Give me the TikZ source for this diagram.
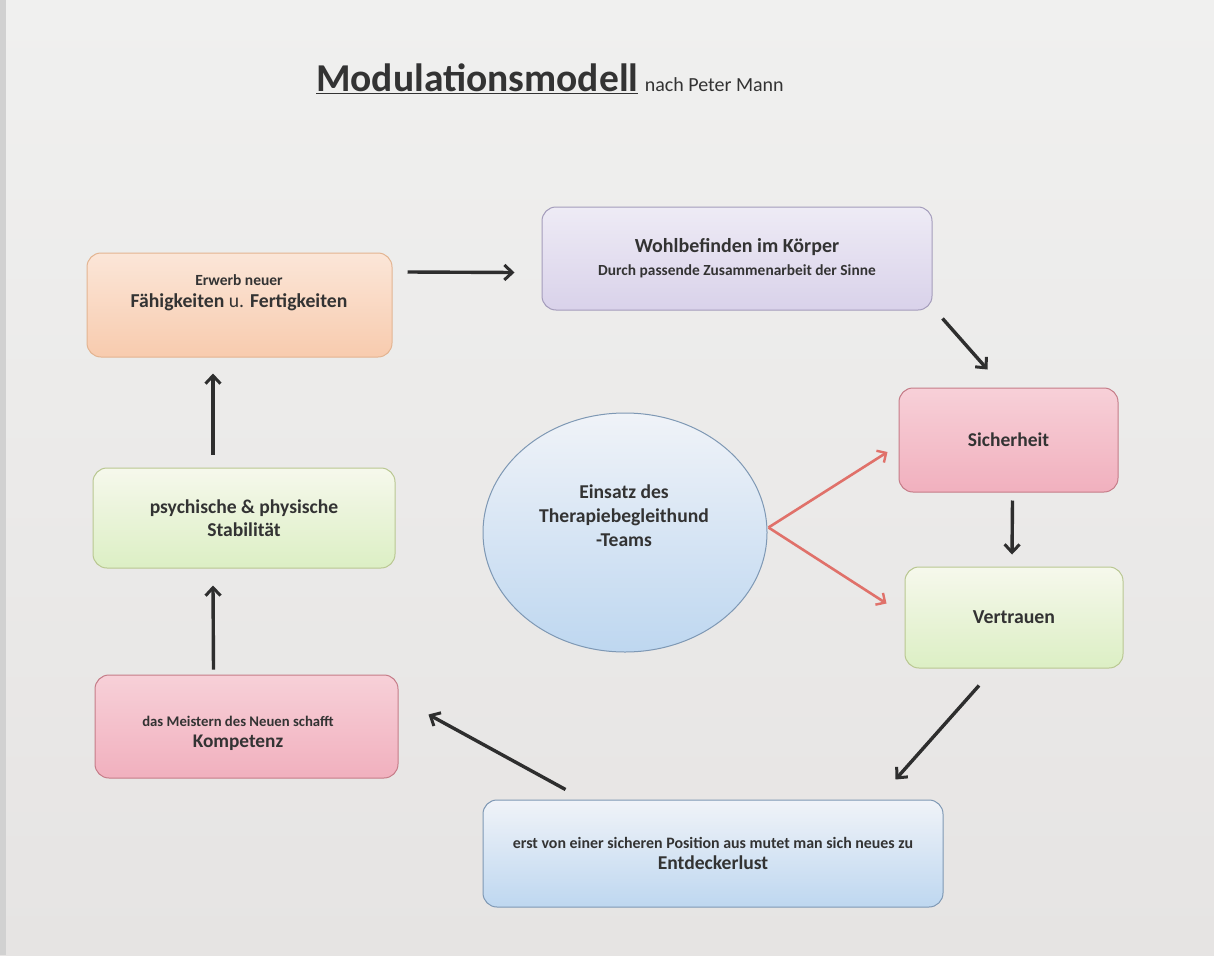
\documentclass[tikz,border=0pt]{standalone}
\usepackage{fontspec}
\setmainfont{Carlito}
\usetikzlibrary{arrows.meta,calc,shapes.geometric,shadings}
\definecolor{txt}{HTML}{333333}
\definecolor{bgtop}{HTML}{F0F0EF}
\definecolor{bgbot}{HTML}{E6E4E3}
\definecolor{orT}{HTML}{FBE6D8}
\definecolor{orB}{HTML}{F8CBAE}
\definecolor{orD}{HTML}{E3B491}
\definecolor{puT}{HTML}{EEEBF5}
\definecolor{puB}{HTML}{D9D2EA}
\definecolor{puD}{HTML}{A49CBB}
\definecolor{piT}{HTML}{F7D0D8}
\definecolor{piB}{HTML}{F1B0BE}
\definecolor{piD}{HTML}{C57C88}
\definecolor{grT}{HTML}{F6F8EC}
\definecolor{grB}{HTML}{DCEFC4}
\definecolor{grD}{HTML}{B9C791}
\definecolor{blT}{HTML}{F0F3F8}
\definecolor{blB}{HTML}{BED7F0}
\definecolor{blD}{HTML}{7E98B4}
\definecolor{redarr}{HTML}{E0716A}
\definecolor{blk}{HTML}{2E2E2E}
\tikzset{
  box/.style={draw, line width=1pt, rounded corners=14pt, inner sep=0pt, text=txt, align=center},
  orangebox/.style={box, draw=orD, top color=orT, bottom color=orB},
  purplebox/.style={box, draw=puD, top color=puT, bottom color=puB},
  pinkbox/.style={box, draw=piD, top color=piT, bottom color=piB},
  greenbox/.style={box, draw=grD, top color=grT, bottom color=grB},
  bluebox/.style={box, draw=blD, top color=blT, bottom color=blB},
  lbl/.style={text=txt, align=center, inner sep=0pt},
  arr/.style={draw=blk, line width=3.4pt, -{Straight Barb[length=8pt,width=15pt,line width=3pt]}},
  redarrow/.style={draw=redarr, line width=2.6pt, -{Straight Barb[length=7pt,width=14pt,line width=2.4pt]}},
  fnt/.style 2 args={font=\fontsize{#1}{#2}\selectfont\bfseries}
}
\newcommand{\sm}{\fontsize{15.5}{15.5}\selectfont}
\begin{document}
\begin{tikzpicture}[x=1pt,y=-1pt]
\useasboundingbox (0,0) rectangle (1214,955);
\shade[top color=bgtop, bottom color=bgbot] (0,0) rectangle (1214,955);
\fill[black!18] (0,0) rectangle (6,955);

% title
\node[anchor=base west, text=txt, inner sep=0pt, font=\fontsize{39.5}{39.5}\selectfont\bfseries] (title) at (316,92) {\underline{Modulationsmodell}};
\node[anchor=base west, text=txt, inner sep=0pt, font=\fontsize{20}{20}\selectfont] (sub) at ([xshift=6pt]title.base east) {nach Peter Mann};

% boxes
\node[orangebox, minimum width=305pt, minimum height=104pt] (erwerb) at (239.5,305) {};
\node[lbl, fnt={19.7}{22}] at (239,293) {{\sm Erwerb neuer}\\Fähigkeiten {\mdseries u.} Fertigkeiten};

\node[purplebox, minimum width=390pt, minimum height=103pt, fnt={20}{23}] (wohl) at (737,258.5)
  {Wohlbefinden im Körper\\{\fontsize{15.4}{15.4}\selectfont Durch passende Zusammenarbeit der Sinne}};

\node[pinkbox, minimum width=219pt, minimum height=104pt, fnt={19.5}{22}] (sicher) at (1008.5,440) {Sicherheit};

\node[greenbox, minimum width=218pt, minimum height=101pt, fnt={19.8}{22}] (vertr) at (1014,617.5) {Vertrauen};

\node[draw=blD, line width=1pt, ellipse, top color=blT, bottom color=blB, minimum width=284pt, minimum height=239pt, inner sep=0pt] (team) at (625,532.5) {};
\node[lbl, fnt={19.6}{24}] at (624,516) {Einsatz des\\Therapiebegleithund\\-Teams};

\node[greenbox, minimum width=302pt, minimum height=100pt, fnt={19.6}{23}] (psych) at (244,518) {psychische \& physische\\Stabilität};

\node[pinkbox, minimum width=303pt, minimum height=103pt] (komp) at (246.5,726.5) {};
\node[lbl, fnt={19.3}{21}] at (238,733) {{\fontsize{14.7}{14.7}\selectfont das Meistern des Neuen schafft}\\Kompetenz};

\node[bluebox, minimum width=460pt, minimum height=107pt, fnt={19.6}{21}] (entd) at (713,853.5)
  {{\fontsize{15.9}{15.9}\selectfont erst von einer sicheren Position aus mutet man sich neues zu}\\Entdeckerlust};

% arrows
\draw[arr] ([shift={(15,-33)}]erwerb.east) -- ([shift={(-27,14)}]wohl.west);
\draw[arr] ([shift={(10,8)}]wohl.south east) -- ([shift={(-21,-18)}]sicher.north);
\draw[arr] ([shift={(4,8)}]sicher.south) -- ([shift={(-2,-12)}]vertr.north);
\draw[arr] ([shift={(-35,17)}]vertr.south) -- ([shift={(-48,-20)}]entd.north east);
\draw[arr] ([shift={(83,-10)}]entd.north west) -- ([shift={(30,-12)}]komp.east);
\draw[arr] ([shift={(-33,-5)}]komp.north) -- ([shift={(-31,17)}]psych.south);
\draw[arr] ([shift={(-31,-13)}]psych.north) -- ([shift={(-26.5,16)}]erwerb.south);

\draw[redarrow] ([shift={(1,-5)}]team.east) -- ([shift={(-11,12)}]sicher.west);
\draw[redarrow] ([shift={(1,-5)}]team.east) -- ([shift={(-18,-14)}]vertr.west);
\end{tikzpicture}
\end{document}
